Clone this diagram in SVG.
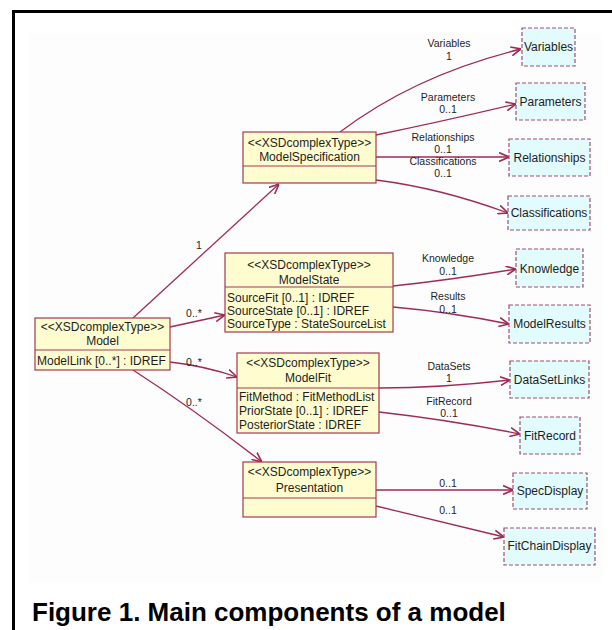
<svg xmlns="http://www.w3.org/2000/svg" width="612" height="630" viewBox="0 0 612 630">
<style>
text{font-family:"Liberation Sans",Arial,sans-serif;fill:#1e1e1e}
.t{font-size:12px}
.c{text-anchor:middle}
.lb{font-size:10.5px;text-anchor:middle}
.cls{fill:#fffcd0;stroke:#a33a52;stroke-width:1.2}
.div{stroke:#a33a52;stroke-width:1.2}
.ref{fill:#e2fbfd;stroke:#a0506e;stroke-width:1.2;stroke-dasharray:4 2}
.e{fill:none;stroke:#a02a55;stroke-width:1.3;marker-end:url(#arr)}
.title{font-size:26px;font-weight:bold;fill:#000}
</style>
<defs>
<marker id="arr" viewBox="0 0 10 10" refX="10" refY="5" markerWidth="10" markerHeight="10" markerUnits="userSpaceOnUse" orient="auto">
<path d="M0,0.5 L10,5 L0,9.5" fill="none" stroke="#a02a55" stroke-width="1.6"/>
</marker>
</defs>
<rect x="0" y="0" width="612" height="630" fill="#ffffff"/>
<rect x="13.5" y="11.5" width="640" height="660" fill="none" stroke="#000" stroke-width="3"/>
<rect x="28" y="33" width="575" height="550" fill="#fdfdfd"/>

<g id="connectors">
<path class="e" d="M133,318 L279,184"/>
<path class="e" d="M170,327 L225,315"/>
<path class="e" d="M170,362 Q205,366 237,377"/>
<path class="e" d="M133,370 Q195,410 262,462"/>
<path class="e" d="M340,132 Q415,75 521,49"/>
<path class="e" d="M376,135 Q440,122 516,104"/>
<path class="e" d="M376,157 L509,157"/>
<path class="e" d="M376,180 Q440,188 508,213"/>
<path class="e" d="M393,286 Q450,280 516,269"/>
<path class="e" d="M393,307 Q450,312 509,324"/>
<path class="e" d="M379,388 Q440,388 510,380"/>
<path class="e" d="M379,412 Q450,420 520,434"/>
<path class="e" d="M376,490 L513,490"/>
<path class="e" d="M376,506 L504,537"/>
</g>

<g id="edge-labels">
<text class="lb" x="449" y="47">Variables</text>
<text class="lb" x="449" y="60">1</text>
<text class="lb" x="448" y="101">Parameters</text>
<text class="lb" x="448" y="113">0..1</text>
<text class="lb" x="443" y="141">Relationships</text>
<text class="lb" x="443" y="153">0..1</text>
<text class="lb" x="443" y="165">Classifications</text>
<text class="lb" x="443" y="177">0..1</text>
<text class="lb" x="448" y="262">Knowledge</text>
<text class="lb" x="448" y="275">0..1</text>
<text class="lb" x="448" y="300">Results</text>
<text class="lb" x="448" y="313">0..1</text>
<text class="lb" x="449" y="370">DataSets</text>
<text class="lb" x="449" y="382">1</text>
<text class="lb" x="449" y="405">FitRecord</text>
<text class="lb" x="449" y="417">0..1</text>
<text class="lb" x="448" y="487">0..1</text>
<text class="lb" x="448" y="514">0..1</text>
<text class="lb" x="199" y="249">1</text>
<text class="lb" x="194" y="317">0..*</text>
<text class="lb" x="194" y="366">0..*</text>
<text class="lb" x="194" y="406">0..*</text>
</g>

<g id="Model">
<rect class="cls" x="35" y="318" width="135" height="52"/>
<line class="div" x1="35" y1="350" x2="170" y2="350"/>
<text class="t c" x="102.5" y="331">&lt;&lt;XSDcomplexType&gt;&gt;</text>
<text class="t c" x="102.5" y="345">Model</text>
<text class="t" x="37" y="365">ModelLink [0..*] : IDREF</text>
</g>

<g id="ModelSpecification">
<rect class="cls" x="243" y="132" width="133" height="51"/>
<line class="div" x1="243" y1="166" x2="376" y2="166"/>
<text class="t c" x="309.5" y="147">&lt;&lt;XSDcomplexType&gt;&gt;</text>
<text class="t c" x="309.5" y="161">ModelSpecification</text>
</g>

<g id="ModelState">
<rect class="cls" x="225" y="253" width="168" height="79"/>
<line class="div" x1="225" y1="287" x2="393" y2="287"/>
<text class="t c" x="309" y="269">&lt;&lt;XSDcomplexType&gt;&gt;</text>
<text class="t c" x="309" y="284">ModelState</text>
<text class="t" x="227" y="302">SourceFit [0..1] : IDREF</text>
<text class="t" x="227" y="315">SourceState [0..1] : IDREF</text>
<text class="t" x="227" y="328">SourceType : StateSourceList</text>
</g>

<g id="ModelFit">
<rect class="cls" x="237" y="353" width="142" height="80"/>
<line class="div" x1="237" y1="388" x2="379" y2="388"/>
<text class="t c" x="308" y="367">&lt;&lt;XSDcomplexType&gt;&gt;</text>
<text class="t c" x="308" y="382">ModelFit</text>
<text class="t" x="239" y="401">FitMethod : FitMethodList</text>
<text class="t" x="239" y="415">PriorState [0..1] : IDREF</text>
<text class="t" x="239" y="429">PosteriorState : IDREF</text>
</g>

<g id="Presentation">
<rect class="cls" x="243" y="462" width="133" height="55"/>
<line class="div" x1="243" y1="498" x2="376" y2="498"/>
<text class="t c" x="309.5" y="476">&lt;&lt;XSDcomplexType&gt;&gt;</text>
<text class="t c" x="309.5" y="492">Presentation</text>
</g>

<g id="Variables"><rect class="ref" x="522" y="28" width="53" height="38"/><text class="t c" x="548.5" y="51">Variables</text></g>
<g id="Parameters"><rect class="ref" x="516" y="83" width="69" height="37"/><text class="t c" x="550.5" y="106">Parameters</text></g>
<g id="Relationships"><rect class="ref" x="509" y="139" width="81" height="37"/><text class="t c" x="549.5" y="162">Relationships</text></g>
<g id="Classifications"><rect class="ref" x="508" y="196" width="82" height="34"/><text class="t c" x="549" y="217">Classifications</text></g>
<g id="Knowledge"><rect class="ref" x="516" y="249" width="67" height="38"/><text class="t c" x="549.5" y="273">Knowledge</text></g>
<g id="ModelResults"><rect class="ref" x="509" y="305" width="81" height="38"/><text class="t c" x="549.5" y="328">ModelResults</text></g>
<g id="DataSetLinks"><rect class="ref" x="510" y="361" width="79" height="37"/><text class="t c" x="549.5" y="384">DataSetLinks</text></g>
<g id="FitRecord"><rect class="ref" x="520" y="417" width="60" height="37"/><text class="t c" x="550" y="440">FitRecord</text></g>
<g id="SpecDisplay"><rect class="ref" x="513" y="473" width="74" height="36"/><text class="t c" x="550" y="495">SpecDisplay</text></g>
<g id="FitChainDisplay"><rect class="ref" x="504" y="528" width="91" height="37"/><text class="t c" x="549.5" y="550">FitChainDisplay</text></g>

<text class="title" x="32" y="621">Figure 1. Main components of a model</text>
</svg>
